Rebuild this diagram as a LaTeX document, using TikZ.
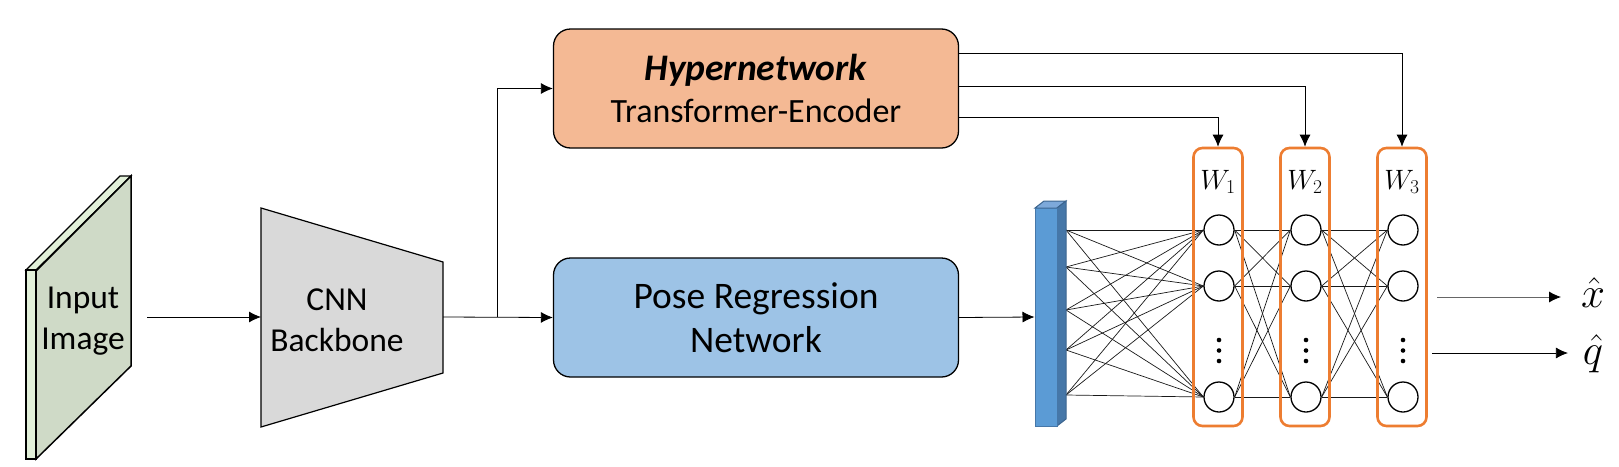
\documentclass[tikz,border=0pt]{standalone}
\usepackage{fix-cm}
\usepackage{fontspec}
\setmainfont{Carlito}
\usetikzlibrary{arrows.meta,backgrounds,calc}
\definecolor{hyperfill}{HTML}{F4B994}
\definecolor{posefill}{HTML}{9DC3E6}
\definecolor{barfill}{HTML}{5B9BD5}
\definecolor{barside}{HTML}{4677A8}
\definecolor{bartop}{HTML}{7DA9DA}
\definecolor{layerline}{HTML}{ED7D31}
\definecolor{imgfill}{HTML}{CFDAC7}
\definecolor{imgside}{HTML}{E2F0D9}
\tikzset{
	smalltext/.style={font=\fontsize{33.5}{41}\selectfont, align=center},
	bigtext/.style={font=\fontsize{37.5}{44}\selectfont, align=center},
	netbox/.style={draw, line width=1.3pt, rounded corners=17pt, minimum width=405pt, minimum height=119pt, bigtext},
	layerbox/.style={draw=layerline, line width=2.6pt, rounded corners=9pt, minimum width=49pt, minimum height=278pt},
	neuron/.style={draw, circle, fill=white, line width=1.3pt, minimum size=30pt, inner sep=0pt},
	conn/.style={line width=0.8pt, -{Latex[length=12pt,width=11pt]}},
	wire/.style={line width=0.7pt, color=black!90},
	hatlabel/.style={font=\fontsize{43}{48}\selectfont, inner sep=0pt}
}
\begin{document}
\begin{tikzpicture}[x=1pt,y=-1pt]
	\useasboundingbox (0,0) rectangle (1619,466);
	
	%%%%% input image %%%%%
	\draw[line width=1.2pt, fill=imgside] (26,270) -- (120,176) -- (131,176) -- (36,270) -- cycle;
	\draw[line width=1.2pt, fill=imgside] (26,270) rectangle (36,459);
	\draw[line width=1.5pt, fill=imgfill] (36,271) -- (131,176) -- (131,366) -- (36,459) -- cycle;
	\node[smalltext] (input) at (83,321) {Input\\Image};
	\coordinate (inputout) at (147,317);
	
	%%%%% backbone %%%%%
	\draw[line width=1.2pt, fill=black!15] (261,208) -- (443,262) -- (443,373) -- (261,427) -- cycle;
	\node[smalltext] (cnn) at (337,320) {CNN\\Backbone};
	\coordinate (cnnin) at (261,317);
	\coordinate (cnnout) at (443,317);
	\coordinate (split) at (497,317);
	
	%%%%% hypernetwork and pose regression %%%%%
	\node[netbox, fill=hyperfill] (hyper) at (756,88.5) {\textbf{\textit{Hypernetwork}}\\[-2pt]\fontsize{34}{40}\selectfont Transformer-Encoder};
	\node[netbox, fill=posefill] (pose) at (756,317.5) {Pose Regression\\Network};
	
	%%%%% bar %%%%%
	\draw[line width=1pt, color=barside!85!black, fill=bartop] (1035,208) -- (1044,201) -- (1066,201) -- (1057,208) -- cycle;
	\draw[line width=1pt, color=barside!85!black, fill=barside] (1057,208) -- (1066,201) -- (1066,419) -- (1057,426) -- cycle;
	\node[draw=barside, line width=1pt, fill=barfill, minimum width=22pt, minimum height=218pt, inner sep=0pt] (bar) at (1046,317) {};
	\foreach \i/\y in {1/230, 2/267, 3/310, 4/350, 5/395}
		\coordinate (in\i) at (1066,\y);
	
	%%%%% layers %%%%%
	\foreach \l/\x in {1/1218, 2/1305, 3/1402} {
		\node[layerbox] (wbox\l) at (\x,287) {};
		\node[font=\fontsize{28}{34}\selectfont] (wlabel\l) at (\x,182) {$W_{\l}$};
		\node[neuron] (n\l a) at (\x+1,230) {};
		\node[neuron] (n\l b) at (\x+1,286) {};
		\node[neuron] (n\l c) at (\x+1,397) {};
		\foreach \y in {340,350.5,361}
			\fill (\x+1,\y) circle (2.3pt);
	}
	
	%%%%% wires %%%%%
	\begin{scope}[on background layer]
		\foreach \i in {1,...,5}
			\foreach \r in {a,b,c}
				\draw[wire] (in\i) -- (n1\r.west);
		\foreach \p/\q in {1/2, 2/3}
			\foreach \r in {a,b,c}
				\foreach \s in {a,b,c}
					\draw[wire] (n\p\r.east) -- (n\q\s.west);
	\end{scope}
	
	%%%%% arrows %%%%%
	\draw[conn] (inputout) -- (cnnin);
	\draw[conn] (cnnout) -- (pose.west);
	\draw[conn] (split) |- (hyper.west);
	\draw[conn] (pose.east) -- (bar.west);
	\draw[conn] ($(hyper.east)+(0,29)$) -| (wbox1.north);
	\draw[conn] ($(hyper.east)+(0,-2)$) -| (wbox2.north);
	\draw[conn] ($(hyper.east)+(0,-35)$) -| (wbox3.north);
	
	%%%%% outputs %%%%%
	\node[hatlabel, outer xsep=20pt] (xhat) at (1593,293) {$\hat{x}$};
	\node[hatlabel, outer xsep=15pt] (qhat) at (1593,354) {$\hat{q}$};
	\coordinate (xfrom) at (1437,297);
	\coordinate (qfrom) at (1432,353);
	\draw[conn, color=black!60, -{Latex[length=12pt,width=11pt,black]}] (xfrom) -- (xfrom -| xhat.west);
	\draw[conn] (qfrom) -- (qfrom -| qhat.west);
\end{tikzpicture}
\end{document}
